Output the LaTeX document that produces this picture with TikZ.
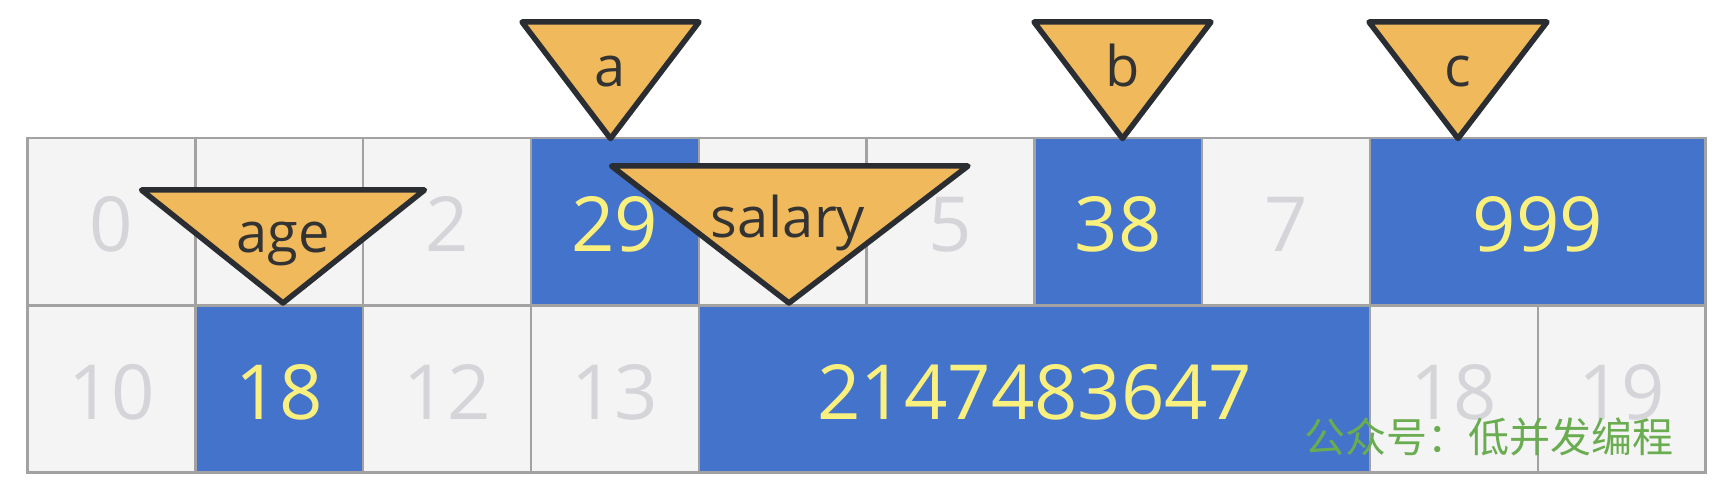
\documentclass[tikz,border=0pt]{standalone}
\usepackage{fontspec}
\setmainfont{Open Sans}
\newfontfamily\cjkfont{Noto Sans CJK SC}
\definecolor{cellgrey}{RGB}{244,244,244}
\definecolor{cellblue}{RGB}{68,115,203}
\definecolor{gridline}{RGB}{162,162,162}
\definecolor{numyellow}{RGB}{250,240,125}
\definecolor{numgrey}{RGB}{213,213,217}
\definecolor{trifill}{RGB}{240,186,92}
\definecolor{triline}{RGB}{42,46,51}
\definecolor{labeltext}{RGB}{51,51,51}
\definecolor{wmgreen}{RGB}{106,172,80}
\begin{document}
\begin{tikzpicture}[x=1pt,y=-1pt,
  cell/.style={draw=gridline, line width=2.5pt, minimum width=167.8pt, minimum height=167pt,
    inner sep=0pt, text height=60pt, text depth=0pt, font=\fontsize{76}{76}\selectfont},
  free/.style={cell, fill=cellgrey, text=numgrey},
  used/.style={cell, fill=cellblue, text=numyellow},
  ptr/.style={fill=trifill, draw=triline, line width=5.5pt, line join=round},
  ptrlabel/.style={anchor=base, inner sep=0pt, text=labeltext, font=\fontsize{56}{56}\selectfont},
  wm/.style={inner sep=0pt, text=wmgreen, font=\cjkfont\fontsize{41}{41}\selectfont}]
\useasboundingbox (0,0) rectangle (1734,502);
% row 1
\node[free] (c0) at (111.5,221.7) {0};
\node[free] (c1) at (279.3,221.7) {};
\node[free] (c2) at (447.1,221.7) {2};
\node[used] (c3) at (614.9,221.7) {29};
\node[free] (c4) at (782.7,221.7) {};
\node[free] (c5) at (950.5,221.7) {5};
\node[used] (c6) at (1118.3,221.7) {38};
\node[free] (c7) at (1286.1,221.7) {7};
\node[used, minimum width=335.6pt] (c8) at (1537.8,221.7) {999};
% row 2
\node[free] (c10) at (111.5,389.2) {10};
\node[used] (c11) at (279.3,389.2) {18};
\node[free] (c12) at (447.1,389.2) {12};
\node[free] (c13) at (614.9,389.2) {13};
\node[used, minimum width=671.2pt] (c14) at (1034.4,389.2) {2147483647};
\node[free] (c18) at (1453.9,389.2) {18};
\node[free] (c19) at (1621.7,389.2) {19};
% pointers
\draw[ptr] (522,22) -- (699,22) -- (610.5,138.5) -- cycle;
\node[ptrlabel] (la) at (610.5,87) {a};
\draw[ptr] (1034,22) -- (1211,22) -- (1122.5,138.5) -- cycle;
\node[ptrlabel] (lb) at (1122.5,87) {b};
\draw[ptr] (1369,22) -- (1547,22) -- (1458,138.5) -- cycle;
\node[ptrlabel] (lc) at (1458,87) {c};
\draw[ptr] (141.5,190) -- (424.5,190) -- (283,303) -- cycle;
\node[ptrlabel] (lage) at (283,253) {age};
\draw[ptr] (611.5,166) -- (968,166) -- (789,303) -- cycle;
\node[ptrlabel] (lsal) at (788,238) {salary};
% watermark
\node[wm] (mark) at (1488.5,437) {公众号：低并发编程};
\end{tikzpicture}
\end{document}
